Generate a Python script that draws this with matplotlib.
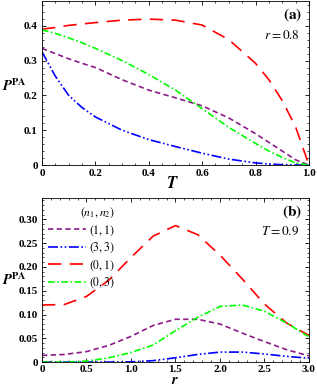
import numpy as np
import matplotlib
matplotlib.use('Agg')
import matplotlib.pyplot as plt
from matplotlib.ticker import MultipleLocator

plt.rcParams['font.family'] = ['Liberation Serif', 'DejaVu Serif']
plt.rcParams['mathtext.fontset'] = 'stix'

# panel (a): r = 0.8, P^PA vs T
T = [0, 0.05, 0.1, 0.15, 0.2, 0.3, 0.4, 0.5, 0.6, 0.7, 0.8, 0.85, 0.9, 0.95, 1.0]
a_11 = [0.335, 0.320, 0.305, 0.292, 0.280, 0.245, 0.215, 0.193, 0.170, 0.135, 0.090, 0.065, 0.040, 0.015, 0.0]
a_33 = [0.325, 0.255, 0.200, 0.165, 0.138, 0.100, 0.073, 0.053, 0.034, 0.017, 0.006, 0.003, 0.001, 0.0, 0.0]
a_01 = [0.390, 0.395, 0.401, 0.405, 0.409, 0.416, 0.419, 0.416, 0.402, 0.360, 0.292, 0.245, 0.185, 0.110, 0.0]
a_03 = [0.388, 0.378, 0.365, 0.351, 0.335, 0.300, 0.260, 0.215, 0.162, 0.108, 0.062, 0.040, 0.022, 0.006, 0.0]

# panel (b): T = 0.9, P^PA vs r
r = [0, 0.25, 0.5, 0.75, 1.0, 1.25, 1.5, 1.75, 2.0, 2.25, 2.5, 2.75, 3.0]
b_11 = [0.014, 0.016, 0.022, 0.035, 0.054, 0.077, 0.090, 0.090, 0.080, 0.061, 0.043, 0.026, 0.013]
b_33 = [0.0, 0.0, 0.0, 0.0, 0.0005, 0.003, 0.009, 0.016, 0.021, 0.021, 0.017, 0.012, 0.008]
b_01 = [0.120, 0.121, 0.138, 0.172, 0.220, 0.265, 0.287, 0.268, 0.225, 0.175, 0.122, 0.082, 0.056]
b_03 = [0.0, 0.0, 0.002, 0.009, 0.020, 0.036, 0.066, 0.094, 0.117, 0.120, 0.107, 0.082, 0.053]

labels = ['$(1,1)$', '$(3,3)$', '$(0,1)$', '$(0,3)$']
colors = ['#8B1A8B', '#0000FF', '#FF0000', '#00FF00']
styles = [(0, (3.2, 2)), (0, (6, 1.5, 1, 1.5, 1, 1.5)), (0, (8, 5)), (0, (4, 1.5, 1, 1.5))]

fig = plt.figure(figsize=(3.17, 3.86), dpi=100)
ax1 = fig.add_axes([0.1325, 0.5725, 0.842, 0.424])
ax2 = fig.add_axes([0.1325, 0.062, 0.842, 0.425])


def style_axis(ax):
    ax.tick_params(which='both', direction='in', top=True, right=True, labelsize=8, pad=3)
    ax.tick_params(which='major', length=3, width=0.6)
    ax.tick_params(which='minor', length=1.6, width=0.5)
    for s in ax.spines.values():
        s.set_linewidth(0.6)
    for lab in ax.get_xticklabels() + ax.get_yticklabels():
        lab.set_fontweight('bold')


for y, c, ls in zip([a_11, a_33, a_01, a_03], colors, styles):
    ax1.plot(T, y, color=c, linestyle=ls, lw=1.2)
ax1.set_xlim(0, 1.0)
ax1.set_ylim(0, 0.47)
ax1.xaxis.set_minor_locator(MultipleLocator(0.05))
ax1.yaxis.set_minor_locator(MultipleLocator(0.02))
ax1.set_xticks([0, 0.2, 0.4, 0.6, 0.8, 1.0])
ax1.set_xticklabels(['0', '0.2', '0.4', '0.6', '0.8', '1.0'])
ax1.set_yticks([0, 0.1, 0.2, 0.3, 0.4])
ax1.set_yticklabels(['0', '0.1', '0.2', '0.3', '0.4'])
ax1.set_xlabel(r'$\mathbfit{T}$', fontsize=12)
ax1.xaxis.set_label_coords(0.49, -0.07)
ax1.set_ylabel(r'$\mathbfit{P}^{\mathbf{PA}}$', fontsize=10.5, rotation=0, ha='center', va='center')
ax1.yaxis.set_label_coords(-0.105, 0.485)
ax1.text(0.975, 0.97, r'$\mathbf{(a)}$', transform=ax1.transAxes, ha='right', va='top', fontsize=11)
ax1.text(0.965, 0.83, r'$r = 0.8$', transform=ax1.transAxes, ha='right', va='top', fontsize=9.5)
style_axis(ax1)

for y, c, ls, lab in zip([b_11, b_33, b_01, b_03], colors, styles, labels):
    ax2.plot(r, y, color=c, linestyle=ls, lw=1.2, label=lab)
ax2.set_xlim(0, 3.0)
ax2.set_ylim(0, 0.345)
ax2.xaxis.set_minor_locator(MultipleLocator(0.1))
ax2.yaxis.set_minor_locator(MultipleLocator(0.01))
ax2.set_xticks([0, 0.5, 1.0, 1.5, 2.0, 2.5, 3.0])
ax2.set_xticklabels(['0', '0.5', '1.0', '1.5', '2.0', '2.5', '3.0'])
ax2.set_yticks([0, 0.05, 0.10, 0.15, 0.20, 0.25, 0.30])
ax2.set_yticklabels(['0', '0.05', '0.10', '0.15', '0.20', '0.25', '0.30'])
ax2.set_xlabel(r'$\mathbfit{r}$', fontsize=10.5, va='center')
ax2.xaxis.set_label_coords(0.50, -0.11)
ax2.set_ylabel(r'$\mathbfit{P}^{\mathbf{PA}}$', fontsize=10.5, rotation=0, ha='center', va='center')
ax2.yaxis.set_label_coords(-0.105, 0.5)
ax2.text(0.975, 0.97, r'$\mathbf{(b)}$', transform=ax2.transAxes, ha='right', va='top', fontsize=11)
ax2.text(0.965, 0.83, r'$T = 0.9$', transform=ax2.transAxes, ha='right', va='top', fontsize=9.5)
leg = ax2.legend(title=r'$(n_1, n_2)$', loc='upper left', frameon=False, fontsize=8.5,
                 title_fontsize=8.5, handlelength=3.2, handletextpad=0.3, labelspacing=0.25,
                 borderaxespad=0.1, bbox_to_anchor=(0.0, 0.99))
leg._legend_box.align = 'right'
style_axis(ax2)
ax2.tick_params(axis='x', which='both', pad=2)

fig.savefig('out.png', dpi=100)
